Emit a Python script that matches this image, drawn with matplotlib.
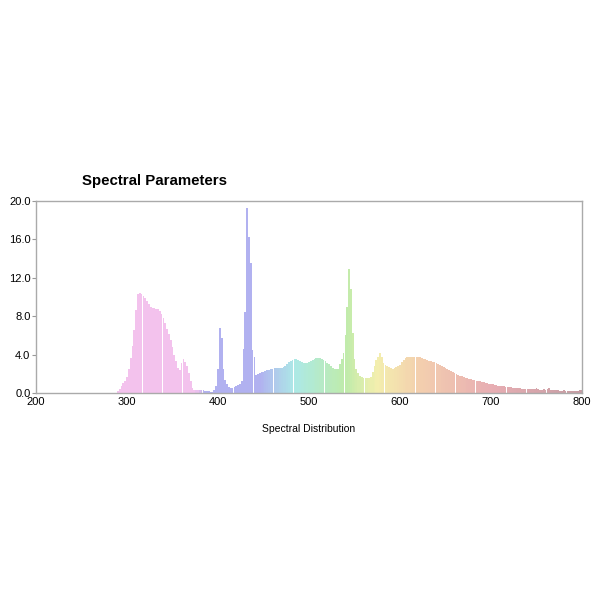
import numpy as np
import matplotlib
matplotlib.use('Agg')
import matplotlib.pyplot as plt
from matplotlib.colors import LinearSegmentedColormap

plt.rcParams['font.family'] = ['Liberation Sans', 'DejaVu Sans']

# spectral power, one value every 2 nm from 200 to 800
wavelengths = np.arange(200, 802, 2)
power = [
    0, 0, 0, 0, 0, 0, 0, 0, 0, 0,                       # 200
    0, 0, 0, 0, 0, 0, 0, 0, 0, 0,                       # 220
    0.05, 0.05, 0.05, 0.05, 0.05, 0.05, 0.05, 0.05, 0.05, 0.05,  # 240
    0.05, 0.05, 0.05, 0.05, 0.05, 0.05, 0.05, 0.05, 0.05, 0.05,  # 260
    0.05, 0.05, 0.05, 0.05, 0.05, 0.2, 0.4, 0.7, 1.0, 1.3,       # 280
    1.7, 2.5, 3.6, 4.9, 6.6, 8.6, 10.3, 10.4, 10.3, 10.1,        # 300
    9.9, 9.6, 9.3, 9.0, 8.9, 8.9, 8.8, 8.7, 8.5, 8.2,            # 320
    7.8, 7.3, 6.7, 6.1, 5.5, 4.8, 4.0, 3.3, 2.6, 2.4,            # 340
    3.1, 3.5, 3.2, 2.8, 2.1, 1.2, 0.5, 0.35, 0.3, 0.3,           # 360
    0.3, 0.3, 0.3, 0.25, 0.2, 0.2, 0.15, 0.1, 0.3, 0.7,          # 380
    2.5, 6.8, 5.7, 2.5, 1.4, 0.9, 0.6, 0.5, 0.55, 0.6,           # 400
    0.7, 0.8, 0.9, 1.2, 4.6, 8.4, 19.3, 16.3, 13.5, 4.5,         # 420
    3.7, 1.9, 2.0, 2.1, 2.2, 2.2, 2.3, 2.4, 2.4, 2.5,            # 440
    2.5, 2.6, 2.6, 2.6, 2.6, 2.6, 2.7, 2.8, 3.0, 3.2,            # 460
    3.3, 3.4, 3.5, 3.5, 3.4, 3.3, 3.2, 3.1, 3.1, 3.1,            # 480
    3.2, 3.3, 3.4, 3.5, 3.6, 3.6, 3.6, 3.5, 3.4, 3.3,            # 500
    3.1, 3.0, 2.8, 2.6, 2.5, 2.5, 2.5, 3.0, 3.5, 4.2,            # 520
    6.0, 9.0, 12.9, 10.8, 6.3, 3.5, 2.5, 2.1, 1.8, 1.7,          # 540
    1.6, 1.6, 1.6, 1.6, 1.7, 2.2, 2.8, 3.4, 3.8, 4.2,            # 560
    3.8, 3.1, 2.9, 2.8, 2.7, 2.6, 2.5, 2.6, 2.7, 2.8,            # 580
    2.9, 3.2, 3.4, 3.6, 3.7, 3.7, 3.8, 3.8, 3.8, 3.8,            # 600
    3.7, 3.7, 3.6, 3.5, 3.5, 3.4, 3.3, 3.3, 3.2, 3.2,            # 620
    3.1, 3.0, 2.9, 2.8, 2.7, 2.6, 2.5, 2.4, 2.3, 2.2,            # 640
    2.1, 2.0, 1.9, 1.8, 1.8, 1.7, 1.6, 1.6, 1.5, 1.5,            # 660
    1.4, 1.35, 1.3, 1.25, 1.2, 1.15, 1.1, 1.05, 1.0, 0.95,       # 680
    0.9, 0.9, 0.85, 0.8, 0.75, 0.75, 0.7, 0.7, 0.65, 0.65,       # 700
    0.6, 0.6, 0.55, 0.55, 0.5, 0.5, 0.5, 0.45, 0.45, 0.45,       # 720
    0.4, 0.4, 0.45, 0.4, 0.4, 0.5, 0.4, 0.35, 0.35, 0.4,         # 740
    0.35, 0.45, 0.5, 0.35, 0.3, 0.3, 0.35, 0.3, 0.25, 0.25,      # 760
    0.3, 0.25, 0.2, 0.2, 0.2, 0.2, 0.2, 0.25, 0.2, 0.3,          # 780
    0.3,                                                          # 800
]

x_ticks = [200, 300, 400, 500, 600, 700, 800]
y_ticks = [0, 4, 8, 12, 16, 20]

# colour along the spectrum
color_stops = [(200, '#f2b8ea'), (375, '#f2b8ea'), (385, '#a4a4ee'), (445, '#a4a4ee'),
               (485, '#9ee6e2'), (540, '#b4e89c'), (575, '#f2eca0'), (620, '#f2c8a0'),
               (700, '#e4a0a6'), (800, '#bc8c94')]
pos = [(w - 200) / 600 for w, _ in color_stops]
cmap = LinearSegmentedColormap.from_list('spec', list(zip(pos, [c for _, c in color_stops])))
colors = cmap((wavelengths - 200) / 600)

fig = plt.figure(figsize=(6, 6), dpi=100)
ax = fig.add_axes([0.06, 0.345, 0.91, 0.32])

ax.bar(wavelengths, power, width=1.9, color=colors, alpha=0.85, linewidth=0)

ax.set_xlim(200, 800)
ax.set_ylim(0, 20)
ax.set_xticks(x_ticks)
ax.set_yticks(y_ticks)
ax.set_yticklabels([f'{v:.1f}' for v in y_ticks])
ax.tick_params(axis='x', length=0, labelsize=8, pad=3)
ax.tick_params(axis='y', length=3, width=0.8, color='#999999', labelsize=8, pad=1)
for s in ax.spines.values():
    s.set_color('#aaaaaa')
    s.set_linewidth(1)

ax.set_xlabel('Spectral Distribution', fontsize=7.5, labelpad=12)
fig.text(0.137, 0.698, 'Spectral Parameters', fontsize=10.8, fontweight='bold',
         ha='left', va='center')

fig.savefig('out.png', dpi=100)
